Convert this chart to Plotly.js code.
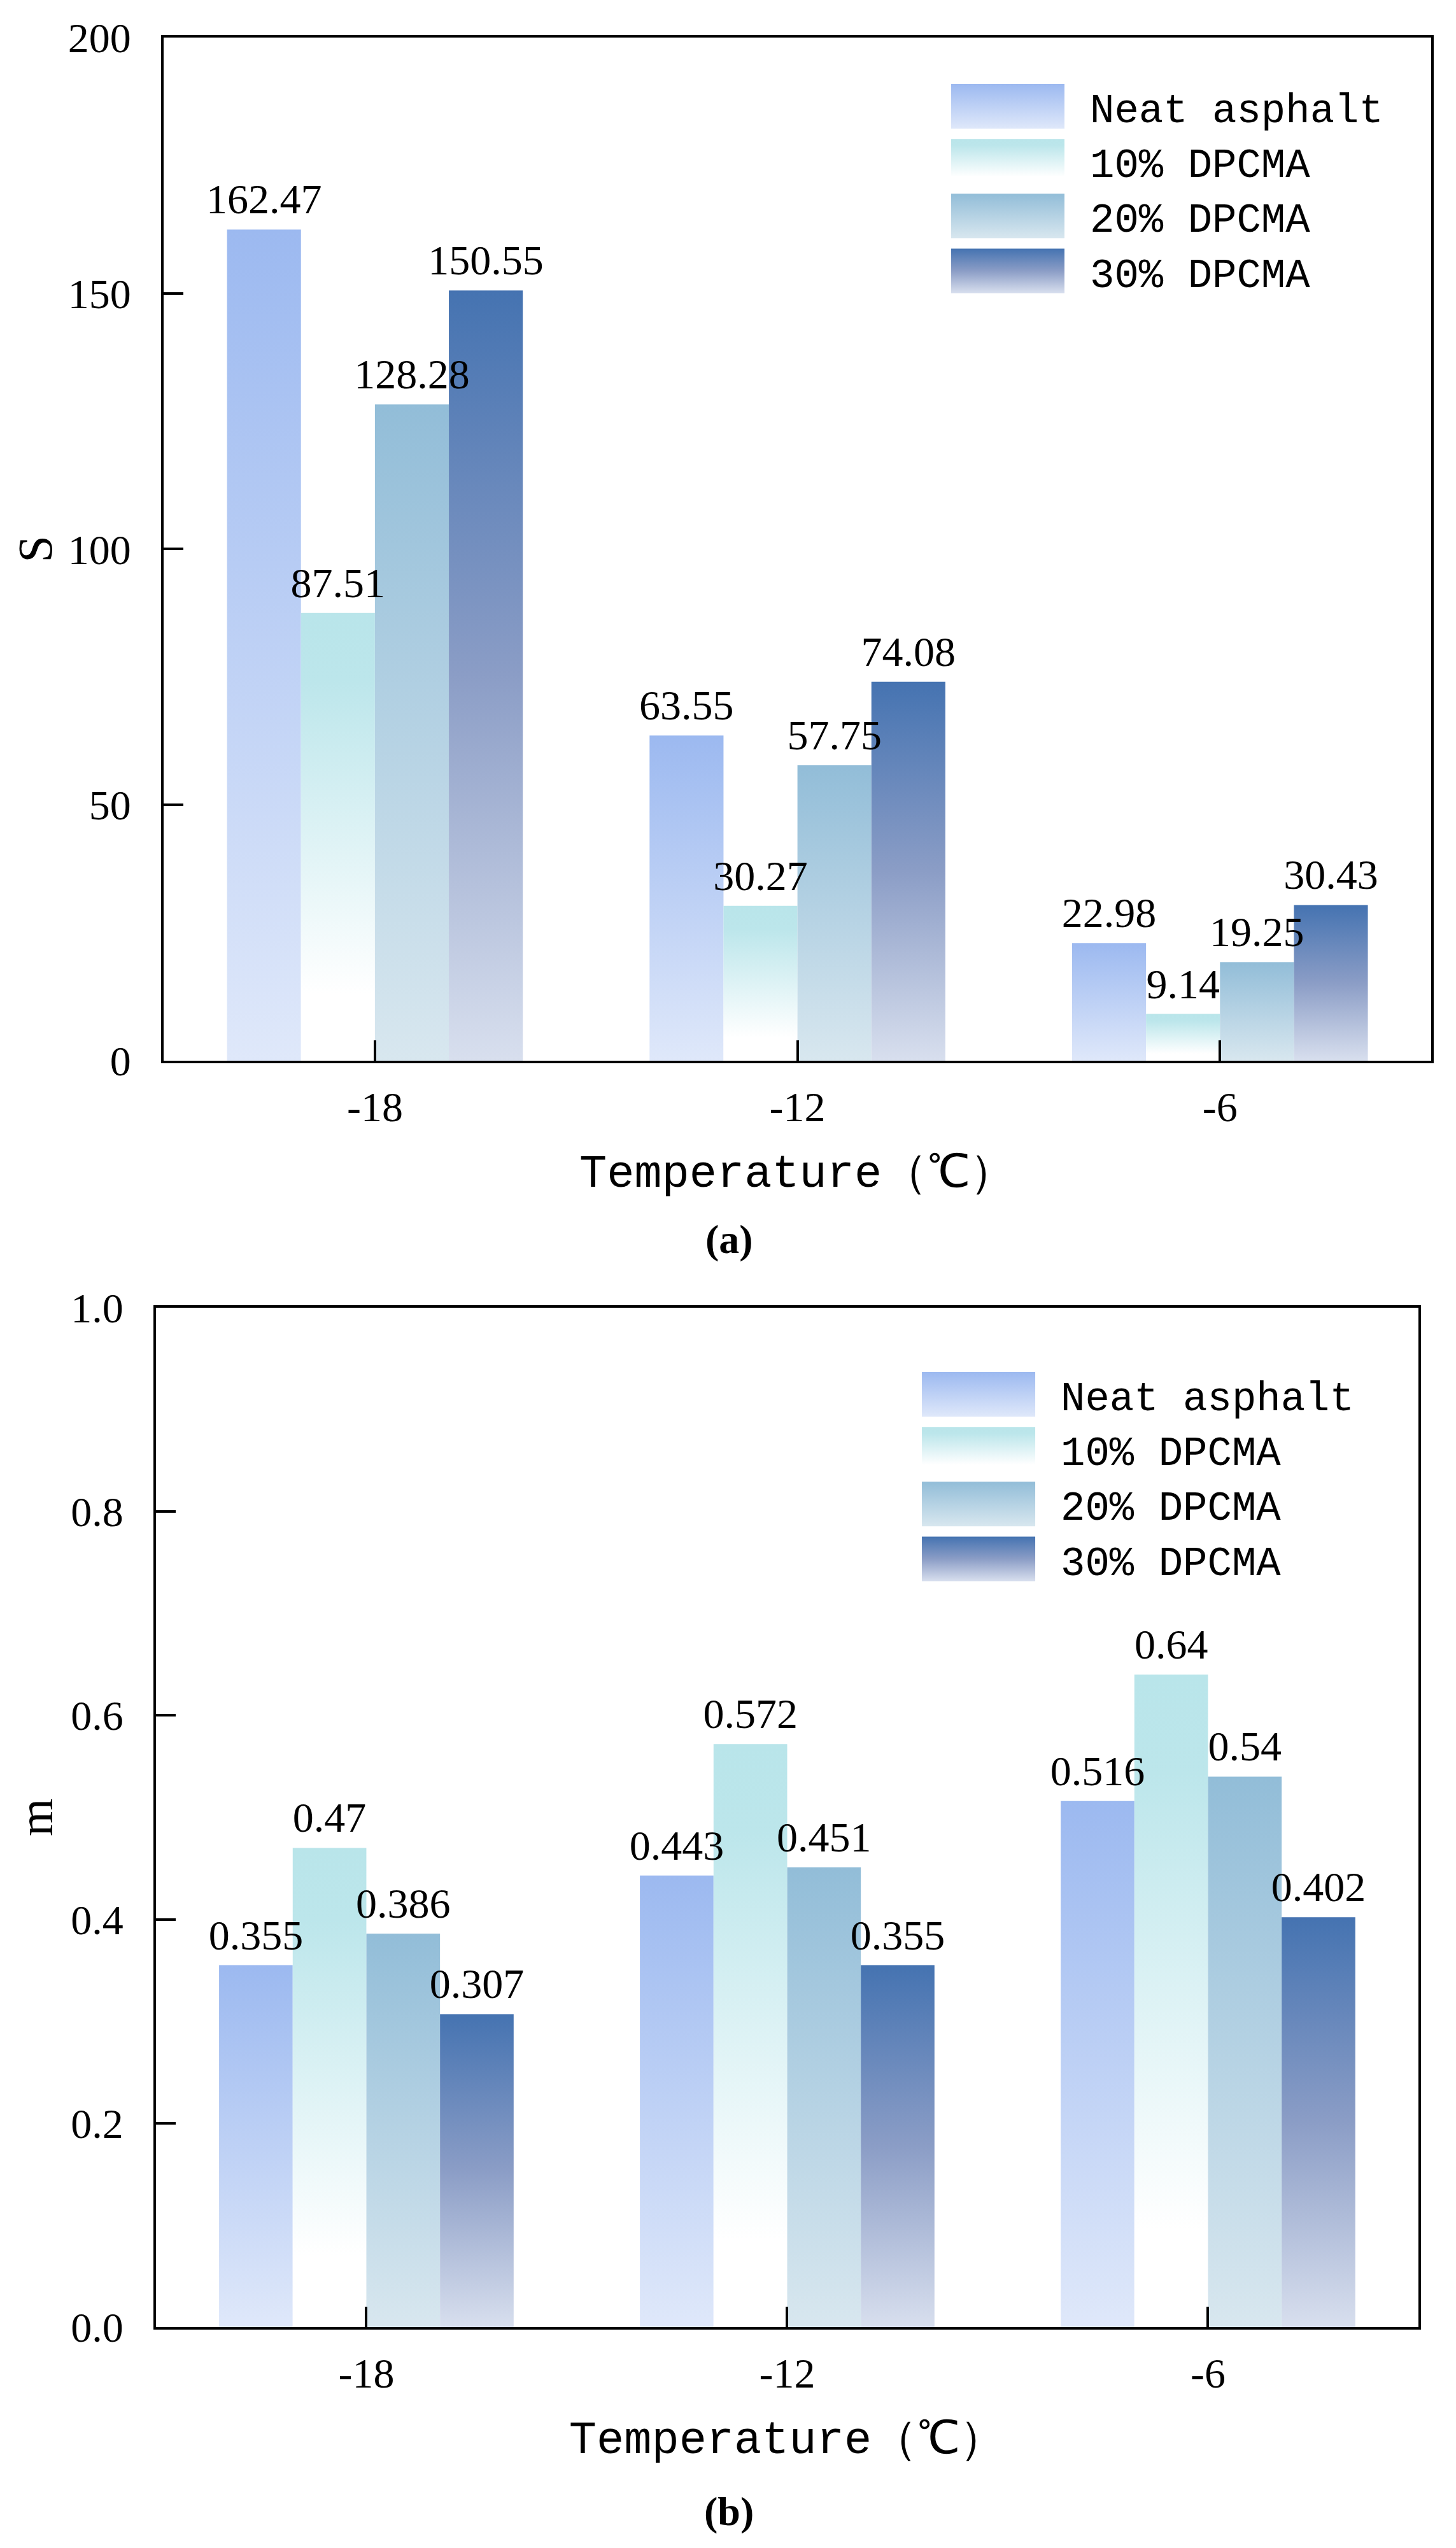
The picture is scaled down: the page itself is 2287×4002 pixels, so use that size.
<!DOCTYPE html>
<html>
<head>
<meta charset="utf-8">
<script src="https://cdn.plot.ly/plotly-3.0.1.min.js"></script>
<style>
  html, body { margin: 0; padding: 0; background: #ffffff; }
  #chart { width: 2287px; height: 4002px; }
</style>
</head>
<body>
<div id="chart"></div>
<script>
// test temperatures (category axis)
var temps = ['-18', '-12', '-6'];
var seriesNames = ['Neat asphalt', '10% DPCMA', '20% DPCMA', '30% DPCMA'];

// (a) creep stiffness S
var neatS = [162.47, 63.55, 22.98];
var dp10S = [87.51, 30.27, 9.14];
var dp20S = [128.28, 57.75, 19.25];
var dp30S = [150.55, 74.08, 30.43];

// (b) creep rate m
var neatM = [0.355, 0.443, 0.516];
var dp10M = [0.47, 0.572, 0.64];
var dp20M = [0.386, 0.451, 0.54];
var dp30M = [0.307, 0.355, 0.402];

// top colour of each series, and the fade stops used for the bars
var topColors = ['#9cb9f0', '#b9e5ea', '#92bdd8', '#4573b1'];
var fades = [
  [['0', '#9cb9f0'], ['1', '#dfe8fa']],
  [['0', '#b9e5ea'], ['0.15', '#bce6eb'], ['0.85', '#ffffff'], ['1', '#ffffff']],
  [['0', '#92bdd8'], ['1', '#d8e7ef']],
  [['0', '#4573b1'], ['0.5', '#8b9dc6'], ['1', '#d8dfee']]
];

var numFont = { family: 'Liberation Serif', size: 66, color: '#000000' };
var wordFont = { family: 'Liberation Mono', size: 64, color: '#000000' };

function barTrace(vals, k, xa, ya, legendId) {
  return {
    type: 'bar',
    x: temps,
    y: vals,
    name: seriesNames[k],
    xaxis: xa,
    yaxis: ya,
    legend: legendId,
    marker: { color: topColors[k], line: { width: 0 } },
    text: vals.map(String),
    textposition: 'outside',
    textangle: 0,
    constraintext: 'none',
    cliponaxis: false,
    textfont: numFont,
    hoverinfo: 'x+y+name'
  };
}

var data = [
  barTrace(neatS, 0, 'x', 'y', 'legend'),
  barTrace(dp10S, 1, 'x', 'y', 'legend'),
  barTrace(dp20S, 2, 'x', 'y', 'legend'),
  barTrace(dp30S, 3, 'x', 'y', 'legend'),
  barTrace(neatM, 0, 'x2', 'y2', 'legend2'),
  barTrace(dp10M, 1, 'x2', 'y2', 'legend2'),
  barTrace(dp20M, 2, 'x2', 'y2', 'legend2'),
  barTrace(dp30M, 3, 'x2', 'y2', 'legend2')
];

function xAxis(domain, anchor) {
  return {
    domain: domain,
    anchor: anchor,
    type: 'category',
    showline: true, mirror: true, linecolor: '#000000', linewidth: 4,
    ticks: 'inside', ticklen: 32, tickwidth: 4, tickcolor: '#000000',
    showgrid: false, zeroline: false,
    tickfont: numFont,
    ticklabelstandoff: 12,
    title: { text: 'Temperature（℃）', font: { family: 'Liberation Mono', size: 72, color: '#000000' }, standoff: 40 }
  };
}

function yAxis(domain, anchor, range, dtick, fmt, label, gap) {
  return {
    domain: domain,
    anchor: anchor,
    range: range,
    dtick: dtick,
    tickformat: fmt,
    showline: true, mirror: true, linecolor: '#000000', linewidth: 4,
    ticks: 'inside', ticklen: 31, tickwidth: 4, tickcolor: '#000000',
    showgrid: false, zeroline: false,
    tickfont: numFont,
    ticklabelstandoff: 34,
    title: { text: label, font: { family: 'Liberation Serif', size: 76, color: '#000000' }, standoff: gap }
  };
}

var legendBase = {
  xanchor: 'left', yanchor: 'top',
  font: wordFont,
  itemwidth: 250,
  bgcolor: 'rgba(0,0,0,0)',
  borderwidth: 0,
  tracegroupgap: 0,
  traceorder: 'normal'
};

var layout = {
  width: 2287,
  height: 4002,
  margin: { l: 0, r: 0, t: 0, b: 0 },
  paper_bgcolor: '#ffffff',
  plot_bgcolor: '#ffffff',
  font: numFont,
  barmode: 'group',
  bargap: 0.3,
  bargroupgap: 0,
  showlegend: true,
  xaxis: xAxis([0.1124, 0.9830], 'y'),
  yaxis: yAxis([0.5837, 0.9853], 'x', [0, 200], 50, '', 'S', 1),
  xaxis2: xAxis([0.1071, 0.9742], 'y2'),
  yaxis2: yAxis([0.0867, 0.4868], 'x2', [0, 1], 0.2, '.1f', 'm', 5),
  legend: Object.assign({ x: 0.6349, y: 0.9703 }, legendBase),
  legend2: Object.assign({ x: 0.6148, y: 0.4648 }, legendBase),
  annotations: [
    { text: '<b>(a)</b>', xref: 'paper', yref: 'paper', x: 0.5007, y: 0.5135,
      xanchor: 'center', yanchor: 'middle', showarrow: false,
      font: { family: 'Liberation Serif', size: 64, color: '#000000' } },
    { text: '<b>(b)</b>', xref: 'paper', yref: 'paper', x: 0.5007, y: 0.0143,
      xanchor: 'center', yanchor: 'middle', showarrow: false,
      font: { family: 'Liberation Serif', size: 64, color: '#000000' } }
  ]
};

// swap the flat bar fills for vertical fades, lift the value labels above
// every bar, and size the legend keys
function paintFades(gd) {
  var ns = 'http://www.w3.org/2000/svg';
  var defs = gd.querySelector('svg.main-svg defs');
  fades.forEach(function (stops, k) {
    var g = document.createElementNS(ns, 'linearGradient');
    g.setAttribute('id', 'barfade' + k);
    g.setAttribute('x1', '0'); g.setAttribute('y1', '0');
    g.setAttribute('x2', '0'); g.setAttribute('y2', '1');
    stops.forEach(function (s) {
      var st = document.createElementNS(ns, 'stop');
      st.setAttribute('offset', s[0]);
      st.setAttribute('stop-color', s[1]);
      g.appendChild(st);
    });
    defs.appendChild(g);
  });

  ['xy', 'x2y2'].forEach(function (sp) {
    var layer = gd.querySelector('.subplot.' + sp + ' .barlayer');
    layer.querySelectorAll('.trace').forEach(function (tr, k) {
      tr.querySelectorAll('.point path').forEach(function (p) {
        p.style.fill = 'url(#barfade' + k + ')';
      });
    });
    var labels = document.createElementNS(ns, 'g');
    layer.appendChild(labels);
    layer.querySelectorAll('text.bartext').forEach(function (t) {
      t.setAttribute('transform', 'translate(0,-8) ' + (t.getAttribute('transform') || ''));
      labels.appendChild(t);
    });
  });

  var w = 178, h = 70;
  var right = (legendBase.itemwidth + 10) / 2 - 40;
  var left = right - w;
  ['legend', 'legend2'].forEach(function (id) {
    gd.querySelectorAll('.infolayer g.' + id + ' .traces').forEach(function (tr, k) {
      tr.querySelectorAll('.legendpoints path').forEach(function (p) {
        p.setAttribute('d', 'M' + left + ',' + (-h / 2) + 'H' + right + 'V' + (h / 2) + 'H' + left + 'Z');
        p.style.fill = 'url(#barfade' + k + ')';
        p.style.stroke = 'none';
      });
    });
  });
}

Plotly.newPlot('chart', data, layout, { staticPlot: true, displayModeBar: false })
  .then(paintFades);
</script>
</body>
</html>
